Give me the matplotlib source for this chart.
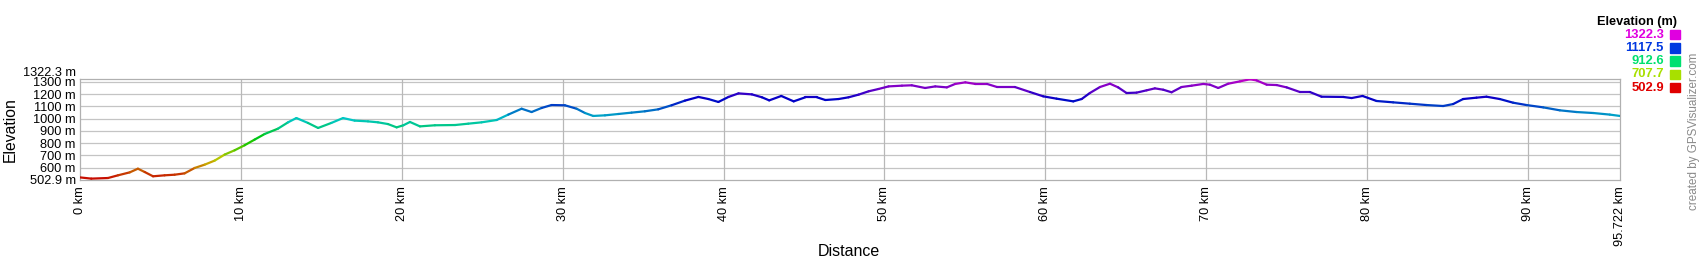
import numpy as np
import matplotlib
matplotlib.use("Agg")
import matplotlib.pyplot as plt
from matplotlib.collections import LineCollection
from matplotlib.colors import hsv_to_rgb
import matplotlib.transforms as mtransforms

plt.rcParams['font.family'] = ['Liberation Sans', 'DejaVu Sans']

# elevation profile (km, m)
dist_km = [0.0, 0.7, 1.74, 2.36, 3.09, 3.6, 4.02, 4.54, 5.26, 5.88, 6.5, 7.13, 7.75, 8.37, 8.99,
           9.61, 10.23, 10.85, 11.48, 12.3, 12.93, 13.45, 14.17, 14.8, 15.62, 16.35, 17.07, 17.9,
           18.52, 19.14,
           19.68, 20.1, 20.51, 21.13, 22.06, 23.31, 24.13, 24.96, 25.9, 26.62, 27.45, 28.07, 28.69,
           29.31, 30.14, 30.87, 31.39, 31.9, 32.63, 33.46, 34.28, 35.11, 35.94, 36.77, 37.6,
           38.44, 39.06, 39.68, 40.31, 40.93, 41.76, 42.39, 42.84, 43.59, 44.36, 45.08, 45.81,
           46.33, 47.15, 47.77, 48.4, 49.02, 49.64, 50.26, 51.09, 51.7, 52.53, 53.16, 53.88, 54.4,
           55.03, 55.65, 56.38, 57.0,
           58.11, 59.05, 59.87, 60.7, 61.74, 62.26, 62.77, 63.4, 64.02, 64.53, 65.05, 65.67, 66.3,
           66.81, 67.33, 67.85, 68.47, 69.1, 69.82, 70.23, 70.75, 71.37, 72.1, 72.72, 73.13, 73.76,
           74.38, 75.0, 75.83, 76.45,
           77.17, 78.52, 79.04, 79.72, 80.59, 81.62, 82.66, 83.7, 84.73, 85.35, 85.97, 86.8, 87.42,
           88.25, 89.08, 89.91, 90.95, 91.98, 93.02, 94.06, 95.09, 95.722]
elev_m = [520, 510, 515, 537, 561, 591, 564, 529, 537, 542, 553, 597, 624, 657, 706,
          741, 782, 828, 874, 917, 969, 1004, 964, 923, 964, 1004, 983, 977,
          969, 955,
          928, 945, 972, 936, 945, 947, 958, 969, 988, 1032, 1080, 1053, 1086,
          1110, 1108, 1080, 1045, 1021, 1026, 1037, 1048, 1059, 1075, 1108, 1146,
          1176, 1159, 1135, 1176, 1205, 1197, 1173, 1148, 1184, 1140, 1173, 1173,
          1151, 1159, 1173, 1195, 1222, 1241, 1262, 1268, 1271, 1249, 1262, 1254, 1282,
          1295, 1282, 1282, 1257,
          1257, 1216, 1181, 1162, 1140, 1159, 1208, 1257, 1284, 1254, 1208, 1211, 1230,
          1246, 1235, 1214, 1257, 1268, 1282, 1276, 1249, 1284, 1303, 1320, 1311, 1276,
          1273, 1254, 1216, 1216,
          1178, 1176, 1167, 1184, 1143, 1132, 1121, 1110, 1102, 1118, 1159, 1170, 1178,
          1159, 1129, 1110, 1091, 1067, 1053, 1045, 1032, 1021]

elev_min = 502.9
elev_max = 1322.3
total_km = 95.722
legend_vals = [1322.3, 1117.5, 912.6, 707.7, 502.9]
ytick_vals = [502.9, 600, 700, 800, 900, 1000, 1100, 1200, 1300, 1322.3]
xtick_vals = [0, 10, 20, 30, 40, 50, 60, 70, 80, 90, 95.722]


def elev_color(e, v=0.78):
    frac = (e - elev_min) / (elev_max - elev_min)
    return hsv_to_rgb([frac * 300 / 360, 1.0, v])


fig = plt.figure(figsize=(17, 2.6), dpi=100)
ax = fig.add_axes([80 / 1700, 1 - 179.5 / 260, 1540 / 1700, 100.5 / 260])

x = np.array(dist_km)
y = np.array(elev_m)
pts = np.column_stack([x, y]).reshape(-1, 1, 2)
segs = np.concatenate([pts[:-1], pts[1:]], axis=1)
cols = [elev_color((a + b) / 2) for a, b in zip(y[:-1], y[1:])]
lc = LineCollection(segs, colors=cols, linewidths=1.6, capstyle='round', joinstyle='round', zorder=3)
ax.add_collection(lc)

ax.set_xlim(0, total_km)
ax.set_ylim(elev_min, elev_max)

for v in ytick_vals[1:-1]:
    ax.axhline(v, color='#c4c4c4', lw=0.9, zorder=1)
for v in xtick_vals[1:-1]:
    ax.axvline(v, color='#b8b8b8', lw=0.9, zorder=1)
for s in ax.spines.values():
    s.set_color('#b0b0b0')
    s.set_linewidth(0.9)

ax.set_yticks(ytick_vals)
ax.set_yticklabels([f"{v:g} m" for v in ytick_vals], fontsize=9.2)
ax.set_xticks(xtick_vals)
ax.set_xticklabels([f"{v:g} km" for v in xtick_vals], rotation=90, fontsize=9.2)
ax.tick_params(axis='y', length=0, pad=3)
ax.tick_params(axis='x', length=0, pad=5)

# push the top label up so it clears the 1300 m label
top_lab = ax.get_yticklabels()[-1]
top_lab.set_transform(top_lab.get_transform() +
                      mtransforms.ScaledTranslation(0, 8 / 100, fig.dpi_scale_trans))

fig.text(10 / 1700, 1 - 130 / 260, "Elevation", rotation=90, fontsize=11.3,
         ha='center', va='center')
fig.text(849 / 1700, 1 - 252 / 260, "Distance", fontsize=11.5, ha='center', va='center')

# colour legend
fig.text(1677 / 1700, 1 - 21.5 / 260, "Elevation (m)", fontsize=9.2, fontweight='bold',
         ha='right', va='center')
for i, v in enumerate(legend_vals):
    yy = 1 - (34.5 + i * 13.3) / 260
    c = elev_color(v, 0.88)
    fig.text(1664 / 1700, yy, f"{v:.1f}", fontsize=9.4, fontweight='bold', color=c,
             ha='right', va='center')
    fig.patches.append(plt.Rectangle((1670 / 1700, yy - 4.7 / 260), 9.5 / 1700, 9.5 / 260,
                                     transform=fig.transFigure, color=c, figure=fig))

fig.text(1694 / 1700, 1 - 131.5 / 260, "created by GPSVisualizer.com", rotation=90,
         fontsize=8.4, color='#8a8a8a', ha='center', va='center')

fig.savefig("out.png", dpi=100)
